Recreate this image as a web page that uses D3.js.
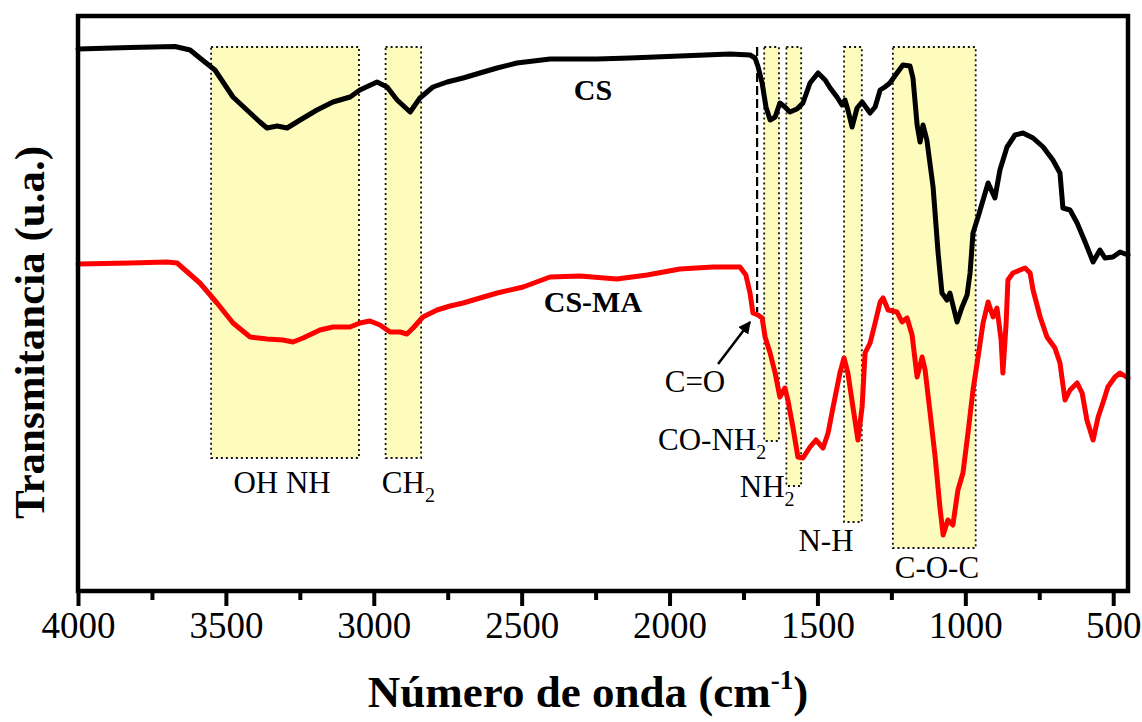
<!DOCTYPE html>
<html>
<head>
<meta charset="utf-8">
<script src="https://cdn.jsdelivr.net/npm/d3@7"></script>
<style>
  body { margin: 0; background: #fff; }
  svg { display: block; }
</style>
</head>
<body>
<svg id="chart" width="1142" height="722"></svg>
<script>
// FTIR spectra: wavenumber (cm-1) and transmittance in arbitrary units
const csWavenumber = [4000,3824,3672,3621,3588,3537,3476,3418,3385,3361,3327,3293,3249,3192,3138,3080,3047,2989,2955,2921,2877,2844,2800,2752,2698,2641,2583,2516,2404,2245,2134,1965,1796,1728,1711,1701,1687,1674,1660,1643,1627,1610,1593,1569,1549,1525,1498,1474,1457,1434,1417,1407,1397,1383,1366,1349,1322,1305,1288,1272,1255,1231,1211,1187,1177,1163,1153,1143,1130,1109,1092,1079,1062,1052,1028,1011,994,984,974,957,940,923,900,883,859,832,805,771,737,704,680,670,646,622,595,568,545,528,501,477,450];
const csTransmittance = [108.4,108.7,108.9,108.2,106.6,104.2,98.8,95.6,93.8,92.6,93.0,92.6,94.2,96.2,97.8,98.8,100.2,101.8,100.8,98.2,95.8,98.6,100.8,101.8,102.6,103.6,104.6,105.6,106.4,106.4,106.6,107,107.4,107.2,106.6,104.9,101.6,96.8,94.2,94.8,97.6,96.8,95.8,96.4,97.6,101.6,103.6,102.2,100.6,98.8,97.2,98.2,96.2,92.8,96.6,97.8,95.6,96.8,100.2,100.8,101.6,103.6,105.2,105,102.6,93.2,89.8,93.2,90.2,80.8,67.6,59.6,58.2,59.6,53.8,56.8,59.2,63.6,71.6,74.8,78.2,81.6,78.6,84.2,88.8,91.2,91.6,90.6,88.8,86.2,83.6,76.6,76.2,73.6,69.8,65.8,68.2,66.6,66.8,67.8,67.2];

const csmaWavenumber = [4000,3824,3699,3665,3588,3530,3476,3418,3361,3307,3273,3239,3182,3138,3080,3047,3013,2979,2945,2911,2888,2867,2834,2786,2742,2698,2583,2495,2404,2303,2178,2076,1965,1853,1762,1742,1728,1718,1701,1687,1677,1660,1643,1627,1610,1600,1583,1566,1549,1525,1505,1481,1464,1447,1424,1410,1397,1380,1363,1349,1339,1322,1305,1288,1278,1261,1231,1214,1197,1180,1163,1146,1136,1119,1102,1086,1075,1059,1042,1025,1008,991,974,957,940,923,906,893,879,873,862,856,839,815,798,781,771,747,724,697,680,663,646,622,605,589,568,551,535,518,494,477,450];
const csmaTransmittance = [65.4,65.6,65.8,65.6,61.6,57.6,53.6,50.8,50.4,50.2,49.8,50.6,52.2,52.8,52.8,53.6,54,53.2,51.8,51.8,51.4,52.6,54.8,56.2,57,57.6,59.6,60.8,62.8,63,62.4,63.2,64.4,64.8,64.8,63.2,59.6,55.6,55.2,54.6,50.8,47.6,43.6,38.8,40.6,38.2,32.8,26.8,26.6,28.8,30.2,28.6,31.6,36.8,43.6,46.6,43.6,36.8,30.2,36.8,47.6,49.6,53.6,57.8,58.6,56.2,55.8,53.8,54.6,51.2,42.8,46.8,44.2,35.6,26.8,16.8,11.2,14.2,13.2,20.2,23.6,31.6,40.2,46.8,53.6,57.8,54.8,56.6,50.2,43.6,53.6,62.2,63.6,64.2,64.6,63.6,60.2,54.8,50.8,48.6,45.6,38.2,40.2,41.6,39.6,34.2,30.2,34.8,37.6,40.8,42.8,43.6,42.6];

// Axis ticks
const majorTicks = [4000, 3500, 3000, 2500, 2000, 1500, 1000, 500];
const minorTicks = [3750, 3250, 2750, 2250, 1750, 1250, 750];

// Assigned absorption bands (wavenumber range and lower edge of the shaded box)
const bandName = ["OH NH", "CH", "CO-NH", "NH", "N-H", "C-O-C"];
const bandSub = ["", "2", "2", "2", "", ""];
const bandStart = [3550, 2960, 1680, 1605, 1410, 1245];
const bandEnd = [3050, 2840, 1630, 1555, 1350, 965];
const bandFloor = [26.6, 26.6, 30, 21, 13.8, 8.6];
const bandCeiling = 108.8;
const bandLabelAt = [3310, 2883, 1856, 1670, 1471, 1096];
const bandLabelBase = [19.6, 19.6, 28.2, 18.8, 8, 2.6];

// Carbonyl marker
const carbonylWavenumber = 1704;

const serif = "'Liberation Serif','Times New Roman',Times,serif";
const svg = d3.select("#chart");
svg.append("rect").attr("width", 1142).attr("height", 722).attr("fill", "#fff");

const x = d3.scaleLinear().domain([4000, 450]).range([78, 1128]);
const y = d3.scaleLinear().domain([0, 115]).range([591, 16]);

// Shaded bands with dotted outlines
const bandG = svg.append("g");
bandName.forEach((name, i) => {
  const x0 = x(bandStart[i]), x1 = x(bandEnd[i]);
  const y0 = y(bandCeiling), y1 = y(bandFloor[i]);
  bandG.append("rect")
    .attr("x", x0).attr("y", y0).attr("width", x1 - x0).attr("height", y1 - y0)
    .attr("fill", "#fefcbc");
  bandG.append("rect")
    .attr("x", x0).attr("y", y0).attr("width", x1 - x0).attr("height", y1 - y0)
    .attr("fill", "none").attr("stroke", "#111").attr("stroke-width", 1.8)
    .attr("stroke-dasharray", "2,3");
});

// Dashed guide at the C=O band
svg.append("line")
  .attr("x1", x(carbonylWavenumber)).attr("x2", x(carbonylWavenumber))
  .attr("y1", y(bandCeiling)).attr("y2", y(55.8))
  .attr("stroke", "#000").attr("stroke-width", 2.2)
  .attr("stroke-dasharray", "9,4");

// Spectra
const line = d3.line().x(d => x(d[0])).y(d => y(d[1]));
const csData = csWavenumber.map((w, i) => [w, csTransmittance[i]]);
const csmaData = csmaWavenumber.map((w, i) => [w, csmaTransmittance[i]]);

svg.append("path").datum(csData)
  .attr("d", line).attr("fill", "none").attr("stroke", "#000")
  .attr("stroke-width", 5).attr("stroke-linejoin", "round").attr("stroke-linecap", "round");
svg.append("path").datum(csmaData)
  .attr("d", line).attr("fill", "none").attr("stroke", "#f00")
  .attr("stroke-width", 5).attr("stroke-linejoin", "round").attr("stroke-linecap", "round");

// Frame
svg.append("rect")
  .attr("x", 78).attr("y", 16).attr("width", 1050).attr("height", 575)
  .attr("fill", "none").attr("stroke", "#000").attr("stroke-width", 4.5);

// Bottom axis: major ticks with labels, minor ticks without
const axisMajor = svg.append("g").attr("transform", "translate(0,591)")
  .call(d3.axisBottom(x).tickValues(majorTicks).tickSize(15).tickPadding(6).tickFormat(d3.format("d")));
axisMajor.select(".domain").remove();
axisMajor.selectAll(".tick line").attr("stroke", "#000").attr("stroke-width", 4);
axisMajor.selectAll(".tick text")
  .attr("font-family", serif).attr("font-size", 37).attr("fill", "#000");

const axisMinor = svg.append("g").attr("transform", "translate(0,591)")
  .call(d3.axisBottom(x).tickValues(minorTicks).tickSize(9).tickFormat(""));
axisMinor.select(".domain").remove();
axisMinor.selectAll(".tick line").attr("stroke", "#000").attr("stroke-width", 4);

// Axis titles
const xTitle = svg.append("text")
  .attr("x", 588).attr("y", 707).attr("text-anchor", "middle")
  .attr("font-family", serif).attr("font-weight", "bold").attr("font-size", 45).attr("fill", "#000");
xTitle.append("tspan").text("Número de onda (cm");
xTitle.append("tspan").attr("font-size", 27).attr("dy", -18).text("-1");
xTitle.append("tspan").attr("dy", 18).text(")");

svg.append("text")
  .attr("transform", "translate(44,332.5) rotate(-90)")
  .attr("text-anchor", "middle")
  .attr("font-family", serif).attr("font-weight", "bold").attr("font-size", 43).attr("fill", "#000")
  .text("Transmitancia (u.a.)");

// Series names
svg.append("text").attr("x", x(2259)).attr("y", y(98.2)).attr("text-anchor", "middle")
  .attr("font-family", serif).attr("font-weight", "bold").attr("font-size", 30).text("CS");
svg.append("text").attr("x", x(2259)).attr("y", y(55.8)).attr("text-anchor", "middle")
  .attr("font-family", serif).attr("font-weight", "bold").attr("font-size", 30).text("CS-MA");

// Band labels
bandName.forEach((name, i) => {
  const t = svg.append("text")
    .attr("x", x(bandLabelAt[i])).attr("y", y(bandLabelBase[i]))
    .attr("text-anchor", "middle")
    .attr("font-family", serif).attr("font-size", 31).attr("fill", "#000");
  t.append("tspan").text(name);
  if (bandSub[i]) t.append("tspan").attr("font-size", 20).attr("dy", 9).text(bandSub[i]);
});

// C=O label with arrow
svg.append("defs").append("marker")
  .attr("id", "head").attr("viewBox", "0 0 10 10").attr("refX", 9).attr("refY", 5)
  .attr("markerWidth", 5).attr("markerHeight", 5).attr("orient", "auto")
  .append("path").attr("d", "M0,0 L10,5 L0,10 Z").attr("fill", "#000");
svg.append("line")
  .attr("x1", x(1836)).attr("y1", y(45.4)).attr("x2", x(1728)).attr("y2", y(53.8))
  .attr("stroke", "#000").attr("stroke-width", 2.5).attr("marker-end", "url(#head)");
svg.append("text").attr("x", x(1914)).attr("y", y(39.8)).attr("text-anchor", "middle")
  .attr("font-family", serif).attr("font-size", 31).text("C=O");
</script>
</body>
</html>
